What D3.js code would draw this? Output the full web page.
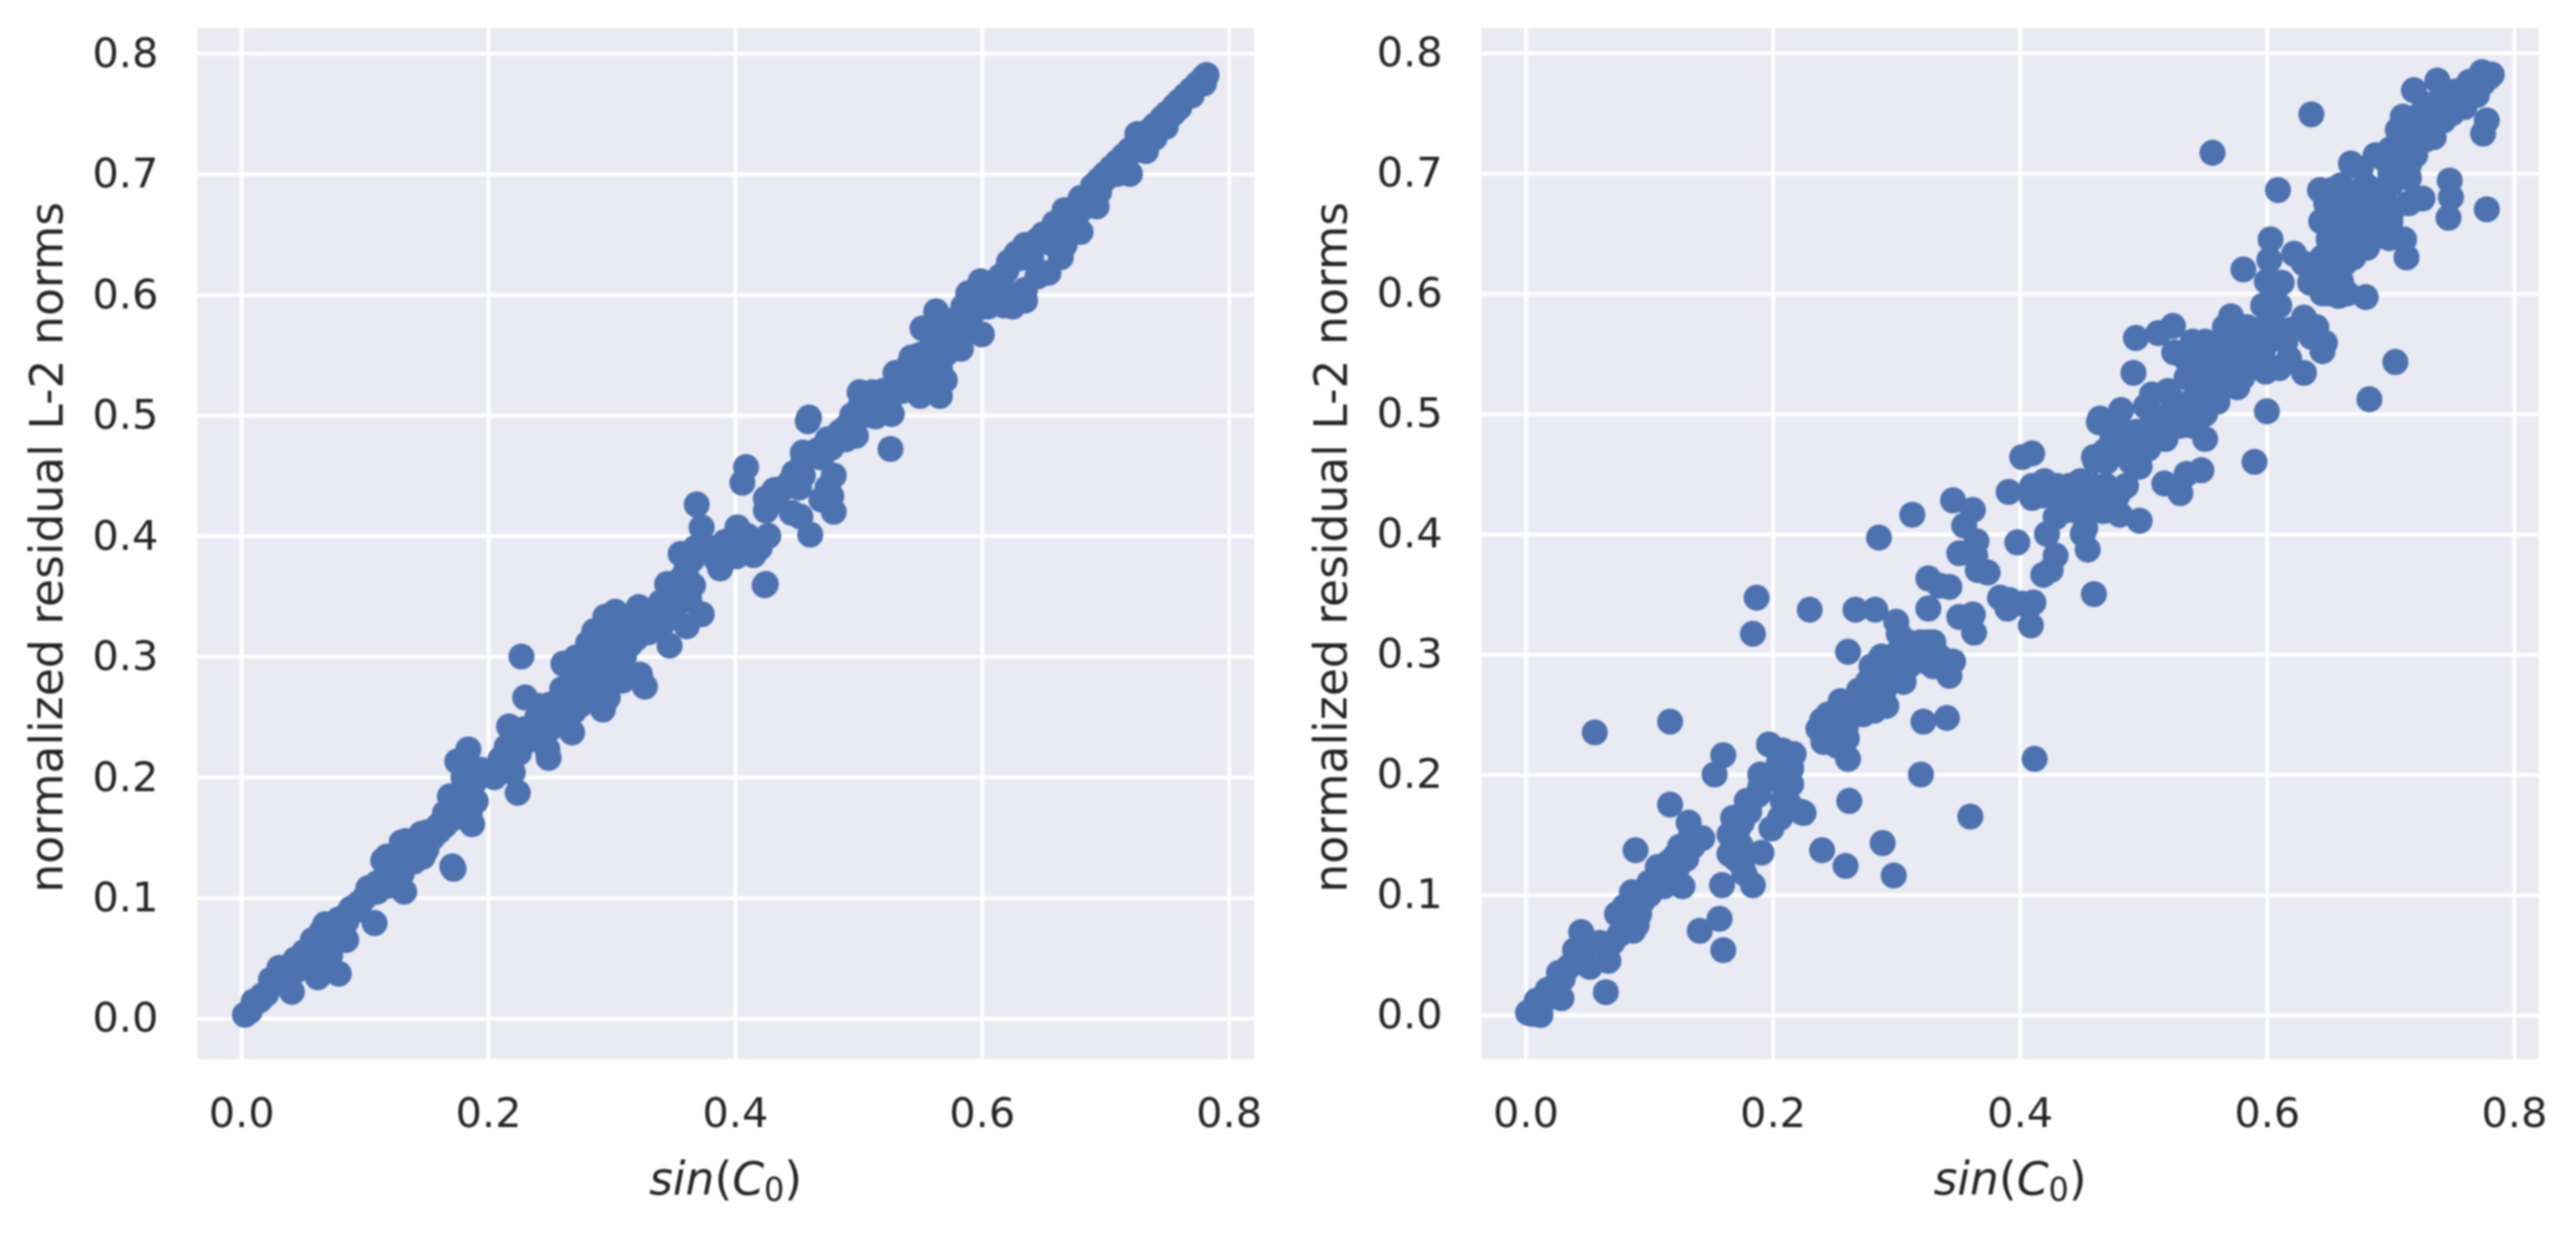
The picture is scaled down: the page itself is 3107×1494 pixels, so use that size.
<!DOCTYPE html>
<html>
<head>
<meta charset="utf-8">
<script src="https://cdnjs.cloudflare.com/ajax/libs/d3/7.8.5/d3.min.js"></script>
<style>
    html, body { margin: 0; padding: 0; background: #fff; }
    svg { display: block; filter: blur(1.3px); }
    text { font-family: "DejaVu Sans", sans-serif; fill: #262626; }
</style>
</head>
<body>
<svg id="chart"></svg>
<script>
const xTicks = [0, 0.2, 0.4, 0.6, 0.8]
const yTicks = [0, 0.1, 0.2, 0.3, 0.4, 0.5, 0.6, 0.7, 0.8]
const xLabelParts = ["sin", "(", "C", "0", ")"]
const yLabel = "normalized residual L-2 norms"

// [sin(C0), residual norm]
const leftPoints = [
    [.003,.003],[.007,.006],[.01,.014],[.017,.019],[.024,.032],[.025,.028],[.034,.036],[.041,.022],[.031,.042],[.04,.04],
    [.044,.049],[.051,.055],[.06,.06],[.058,.065],[.062,.034],[.065,.072],[.072,.052],[.068,.078],[.075,.075],[.079,.037],
    [.079,.082],[.085,.065],[.089,.091],[.09,.09],[.103,.108],[.108,.079],[.105,.105],[.115,.131],[.118,.134],[.121,.121],
    [.13,.146],[.132,.105],[.133,.147],[.137,.139],[.146,.153],[.146,.137],[.147,.134],[.15,.154],[.156,.156],[.165,.17],
    [.172,.124],[.171,.126],[.169,.184],[.175,.168],[.175,.213],[.177,.187],[.184,.223],[.187,.18],[.187,.161],[.189,.196],
    [.194,.206],[.208,.208],[.217,.242],[.22,.204],[.22,.227],[.224,.187],[.227,.3],[.23,.266],[.231,.23],[.241,.259],
    [.248,.223],[.249,.216],[.253,.251],[.26,.273],[.261,.294],[.268,.237],[.269,.254],[.271,.299],[.276,.285],[.281,.311],
    [.286,.321],[.286,.297],[.288,.273],[.293,.256],[.295,.333],[.295,.309],[.297,.266],[.302,.302],[.303,.337],[.309,.316],
    [.309,.28],[.312,.333],[.322,.341],[.323,.285],[.326,.323],[.327,.275],[.333,.337],[.342,.328],[.345,.36],[.347,.309],
    [.349,.347],[.356,.385],[.356,.364],[.361,.325],[.363,.347],[.366,.359],[.368,.39],[.369,.426],[.373,.407],[.373,.335],
    [.388,.373],[.392,.395],[.401,.383],[.402,.407],[.406,.444],[.409,.457],[.415,.384],[.424,.359],[.425,.36],[.425,.431],
    [.425,.421],[.427,.4],[.432,.438],[.433,.43],[.446,.419],[.448,.452],[.452,.44],[.453,.416],[.455,.469],[.455,.46],
    [.459,.495],[.46,.498],[.461,.401],[.467,.471],[.475,.44],[.478,.473],[.478,.433],[.48,.45],[.48,.42],[.485,.486],
    [.498,.483],[.501,.519],[.501,.506],[.511,.519],[.514,.499],[.526,.472],[.527,.501],[.527,.516],[.54,.532],[.543,.548],
    [.55,.516],[.552,.572],[.553,.539],[.563,.586],[.566,.539],[.566,.516],[.57,.572],[.57,.529],[.576,.578],[.583,.555],
    [.589,.601],[.596,.588],[.599,.611],[.6,.567],[.61,.61],[.612,.604],[.618,.591],[.622,.627],[.628,.634],[.63,.63],
    [.635,.641],[.635,.604],[.635,.595],[.65,.65],[.651,.644],[.654,.618],[.659,.659],[.664,.631],[.667,.67],[.667,.641],
    [.671,.66],[.68,.652],[.68,.68],[.687,.683],[.69,.69],[.693,.673],[.7,.696],[.7,.7],[.717,.713],[.72,.7],
    [.72,.72],[.726,.733],[.733,.733],[.733,.719],[.746,.746],[.749,.739],[.756,.756],[.765,.765],[.775,.775],[.782,.782],
    [.015,.015],[.02,.02],[.03,.03],[.035,.03],[.045,.04],[.05,.045],[.05,.05],[.055,.05],[.06,.05],[.065,.06],
    [.07,.065],[.07,.07],[.08,.07],[.085,.08],[.085,.085],[.095,.09],[.095,.095],[.1,.1],[.11,.105],[.11,.112],
    [.115,.115],[.12,.11],[.125,.125],[.125,.13],[.13,.12],[.14,.13],[.14,.145],[.15,.14],[.155,.15],[.16,.155],
    [.16,.16],[.165,.16],[.17,.165],[.17,.175],[.18,.175],[.18,.19],[.18,.2],[.175,.18],[.185,.17],[.19,.18],
    [.19,.205],[.2,.205],[.205,.2],[.21,.215],[.215,.225],[.225,.22],[.225,.235],[.23,.24],[.24,.235],[.24,.25],
    [.25,.24],[.25,.26],[.255,.245],[.26,.26],[.26,.25],[.265,.27],[.27,.265],[.27,.28],[.275,.26],[.28,.29],
    [.28,.27],[.285,.28],[.29,.3],[.29,.28],[.29,.29],[.3,.32],[.3,.29],[.3,.28],[.305,.3],[.31,.325],
    [.31,.3],[.315,.31],[.32,.33],[.32,.315],[.33,.33],[.33,.32],[.335,.325],[.34,.345],[.34,.335],[.35,.355],
    [.35,.335],[.355,.345],[.36,.37],[.365,.38],[.38,.39],[.385,.38],[.395,.39],[.41,.39],[.41,.4],[.42,.39],
    [.44,.44],[.445,.445],[.455,.45],[.47,.465],[.47,.43],[.47,.47],[.475,.48],[.48,.48],[.49,.49],[.49,.48],
    [.495,.5],[.5,.5],[.505,.515],[.51,.5],[.51,.51],[.52,.51],[.52,.52],[.53,.525],[.53,.535],[.535,.52],
    [.54,.54],[.54,.525],[.545,.53],[.55,.55],[.55,.53],[.555,.54],[.56,.56],[.56,.53],[.56,.55],[.565,.565],
    [.57,.55],[.57,.57],[.575,.565],[.58,.58],[.58,.57],[.585,.59],[.585,.575],[.59,.58],[.59,.57],[.595,.6],
    [.6,.6],[.605,.59],[.605,.605],[.61,.595],[.615,.615],[.62,.62],[.625,.6],[.625,.59],[.64,.64],[.64,.63],
    [.645,.615],[.645,.645],[.655,.65],[.66,.64],[.665,.655],[.67,.665],[.675,.67],[.68,.67],[.685,.68],[.69,.68],
    [.695,.695],[.695,.685],[.705,.705],[.705,.7],[.71,.7],[.71,.71],[.715,.715],[.725,.72],[.73,.725],[.735,.735],
    [.74,.74],[.74,.73],[.75,.75],[.75,.745],[.755,.75],[.76,.76],[.76,.755],[.77,.77],[.77,.765],[.78,.78],[.78,.775]
]

// same, for the right plot
const rightPoints = [
    [.002,.002],[.005,.001],[.009,.012],[.012,0],[.018,.021],[.027,.035],[.029,.014],[.04,.054],[.045,.069],[.052,.04],
    [.056,.235],[.06,.06],[.065,.019],[.067,.045],[.074,.084],[.076,.067],[.085,.086],[.087,.07],[.089,.137],[.092,.084],
    [.086,.102],[.096,.1],[.105,.111],[.107,.123],[.112,.107],[.116,.127],[.117,.244],[.117,.175],[.121,.132],[.123,.123],
    [.127,.107],[.13,.141],[.132,.16],[.134,.15],[.141,.07],[.143,.147],[.153,.2],[.157,.08],[.16,.216],[.16,.054],
    [.159,.108],[.165,.134],[.168,.164],[.172,.155],[.174,.141],[.177,.118],[.179,.178],[.181,.169],[.184,.108],[.184,.317],
    [.187,.347],[.188,.183],[.19,.19],[.191,.135],[.197,.225],[.199,.155],[.206,.164],[.208,.22],[.208,.178],[.212,.206],
    [.213,.176],[.215,.192],[.217,.217],[.223,.169],[.225,.168],[.23,.337],[.237,.238],[.24,.137],[.241,.227],[.248,.236],
    [.25,.247],[.252,.224],[.255,.261],[.259,.124],[.259,.238],[.261,.213],[.261,.302],[.262,.178],[.267,.337],[.273,.25],
    [.277,.277],[.282,.253],[.283,.337],[.286,.284],[.286,.397],[.288,.298],[.289,.143],[.292,.257],[.295,.282],[.297,.298],
    [.298,.116],[.3,.327],[.302,.317],[.302,.289],[.306,.277],[.311,.298],[.313,.416],[.315,.303],[.32,.2],[.322,.244],
    [.324,.294],[.326,.363],[.326,.338],[.326,.31],[.335,.357],[.335,.298],[.341,.247],[.343,.356],[.343,.282],[.346,.428],
    [.346,.294],[.351,.384],[.351,.331],[.355,.407],[.36,.165],[.362,.42],[.362,.333],[.363,.318],[.364,.382],[.365,.394],
    [.366,.37],[.374,.368],[.384,.347],[.391,.435],[.392,.345],[.39,.338],[.398,.393],[.402,.464],[.402,.342],[.409,.324],
    [.41,.467],[.411,.343],[.412,.213],[.418,.432],[.419,.366],[.42,.444],[.422,.4],[.425,.37],[.429,.414],[.429,.382],
    [.431,.43],[.438,.432],[.449,.444],[.451,.4],[.453,.405],[.454,.432],[.455,.387],[.46,.35],[.46,.464],[.461,.461],
    [.464,.493],[.465,.496],[.465,.421],[.468,.419],[.469,.469],[.471,.469],[.476,.476],[.479,.432],[.481,.477],[.481,.416],
    [.482,.503],[.486,.44],[.492,.534],[.494,.563],[.494,.485],[.497,.456],[.497,.411],[.502,.506],[.504,.471],[.507,.516],
    [.507,.493],[.512,.567],[.517,.442],[.518,.479],[.519,.498],[.52,.519],[.524,.573],[.525,.551],[.53,.434],[.535,.45],
    [.54,.511],[.54,.49],[.545,.524],[.545,.54],[.547,.453],[.548,.553],[.55,.479],[.553,.511],[.556,.717],[.563,.556],
    [.563,.54],[.563,.522],[.566,.572],[.571,.581],[.576,.522],[.579,.545],[.581,.62],[.584,.572],[.59,.46],[.594,.569],
    [.597,.59],[.597,.553],[.599,.535],[.6,.502],[.602,.628],[.602,.58],[.603,.645],[.607,.606],[.609,.686],[.61,.538],
    [.612,.609],[.618,.546],[.622,.633],[.63,.625],[.63,.58],[.63,.534],[.635,.609],[.636,.749],[.636,.564],[.64,.572],
    [.643,.686],[.644,.66],[.645,.552],[.647,.559],[.648,.675],[.652,.686],[.653,.63],[.653,.609],[.658,.654],[.658,.598],
    [.663,.625],[.666,.667],[.666,.641],[.668,.708],[.671,.683],[.676,.704],[.676,.654],[.68,.597],[.681,.672],[.681,.638],
    [.683,.512],[.687,.686],[.688,.715],[.688,.654],[.692,.667],[.697,.71],[.699,.646],[.702,.67],[.704,.543],[.706,.736],
    [.71,.747],[.71,.72],[.711,.645],[.713,.63],[.715,.731],[.715,.707],[.715,.696],[.715,.675],[.719,.769],[.725,.736],
    [.726,.679],[.728,.728],[.73,.757],[.738,.777],[.74,.747],[.743,.76],[.743,.744],[.747,.663],[.748,.694],[.749,.68],
    [.753,.768],[.758,.76],[.761,.765],[.764,.776],[.774,.784],[.774,.776],[.775,.733],[.778,.744],[.778,.67],[.782,.782],
    [.66,.65],[.67,.65],[.67,.67],[.68,.66],[.69,.68],[.69,.66],[.7,.69],[.7,.7],[.7,.72],[.705,.7],
    [.71,.71],[.72,.72],[.72,.74],[.725,.75],[.73,.74],[.735,.73],[.735,.75],[.745,.75],[.75,.75],[.755,.755],
    [.76,.755],[.765,.765],[.77,.77],[.77,.765],[.775,.775],[.78,.78],[.71,.735],[.72,.715],[.66,.69],[.66,.66],
    [.675,.66],[.685,.645],[.67,.63],[.66,.635],[.65,.645],[.69,.65],[.7,.66],[.68,.69],[.665,.68],[.64,.61],
    [.645,.6],[.65,.6],[.655,.62],[.66,.61],[.665,.6],[.645,.63],[.6,.61],[.605,.595],[.61,.59],[.6,.57],
    [.61,.57],[.615,.56],[.62,.57],[.58,.555],[.585,.56],[.59,.54],[.58,.53],[.57,.53],[.57,.55],[.575,.56],
    [.555,.55],[.55,.53],[.55,.56],[.54,.56],[.535,.545],[.535,.53],[.53,.55],[.56,.51],[.55,.5],[.53,.5],
    [.53,.49],[.525,.51],[.51,.485],[.5,.48],[.49,.47],[.49,.46],[.48,.49],[.475,.48],[.47,.46],[.47,.44],
    [.46,.44],[.45,.42],[.445,.43],[.44,.42],[.43,.44],[.44,.44],[.41,.44],[.41,.43],[.24,.245],[.245,.25],
    [.245,.24],[.25,.23],[.26,.23],[.3,.3],[.305,.31],[.31,.31],[.32,.31],[.33,.31],[.31,.29],[.33,.29],
    [.28,.29],[.29,.29],[.29,.27],[.3,.28],[.27,.26],[.27,.27],[.265,.25],[.26,.245],[.28,.265],[.19,.2],
    [.2,.2],[.21,.2],[.21,.19],[.215,.205],[.205,.21],[.175,.16],[.165,.15],[.175,.125],[.17,.13],[.1,.11],
    [.12,.13],[.125,.14],[.13,.13],[.135,.14],[.1,.1],[.095,.095],[.08,.075],[.08,.09],[.09,.075],[.07,.06],
    [.03,.03],[.035,.04],[.04,.045],[.025,.025],[.02,.02],[.015,.012],[.045,.05],[.05,.06],[.01,.005],[.007,.004]
]

const width = 3107
const height = 1494

// plot boxes
const panels = [
    { points: leftPoints, left: 238, right: 1512.5, top: 34, bottom: 1277, xDomain: [-0.0356, 0.8205], yDomain: [-0.0337, 0.8208], yLabelX: 75 },
    { points: rightPoints, left: 1787, right: 3062, top: 34, bottom: 1277, xDomain: [-0.0356, 0.82], yDomain: [-0.0366, 0.8206], yLabelX: 1624 }
]

const svg = d3.select('#chart')
    .attr('width', width)
    .attr('height', height)

panels.forEach(p => {
    var w = p.right - p.left
    var h = p.bottom - p.top

    var x_scale = d3.scaleLinear().domain(p.xDomain).range([0, w])
    var y_scale = d3.scaleLinear().domain(p.yDomain).range([h, 0])

    var g = svg.append('g')
        .attr('transform', 'translate(' + p.left + ',' + p.top + ')')

    g.append('rect')
        .attr('width', w)
        .attr('height', h)
        .attr('fill', '#EAEAF2')

    var x_axis = d3.axisBottom(x_scale)
        .tickValues(xTicks)
        .tickFormat(d3.format('.1f'))
        .tickSize(-h)
        .tickPadding(46)

    var y_axis = d3.axisLeft(y_scale)
        .tickValues(yTicks)
        .tickFormat(d3.format('.1f'))
        .tickSize(-w)
        .tickPadding(47)

    var gx = g.append('g')
        .attr('transform', 'translate(0,' + h + ')')
        .call(x_axis)
    var gy = g.append('g').call(y_axis)

    ;[gx, gy].forEach(a => {
        a.select('.domain').remove()
        a.selectAll('line').attr('stroke', '#fff').attr('stroke-width', 4.5)
        a.selectAll('text').attr('font-size', 50).attr('fill', '#262626').style('font-family', '"DejaVu Sans"')
    })

    g.selectAll('circle')
        .data(p.points)
        .enter()
        .append('circle')
        .attr('cx', d => x_scale(d[0]))
        .attr('cy', d => y_scale(d[1]))
        .attr('r', 15.7)
        .attr('fill', '#4C72B0')

    // x label, mathtext style: italics for the letters only
    var xl = svg.append('text')
        .attr('x', (p.left + p.right) / 2)
        .attr('y', 1440)
        .attr('text-anchor', 'middle')
        .attr('font-size', 55)
    xl.append('tspan').attr('font-style', 'italic').text(xLabelParts[0])
    xl.append('tspan').text(xLabelParts[1])
    xl.append('tspan').attr('font-style', 'italic').text(xLabelParts[2])
    xl.append('tspan').attr('font-size', 38.5).attr('dy', 8).text(xLabelParts[3])
    xl.append('tspan').attr('dy', -8).text(xLabelParts[4])

    svg.append('text')
        .attr('transform', 'translate(' + p.yLabelX + ',660) rotate(-90)')
        .attr('text-anchor', 'middle')
        .attr('font-size', 55)
        .text(yLabel)
})
</script>
</body>
</html>
